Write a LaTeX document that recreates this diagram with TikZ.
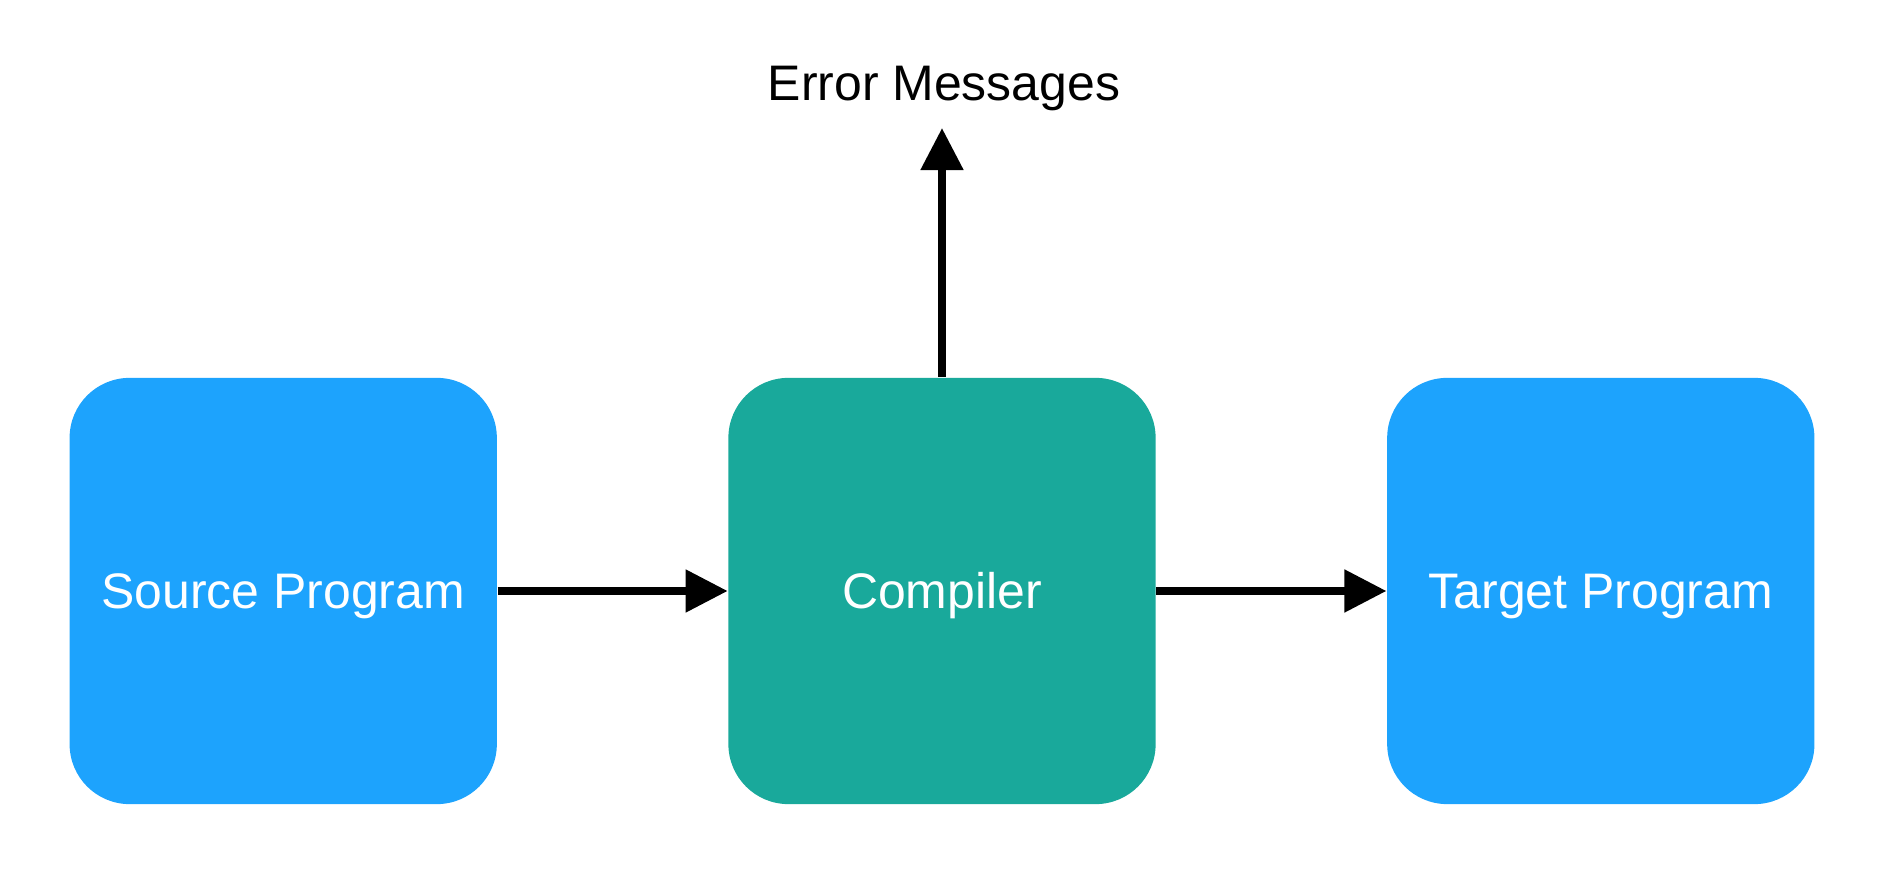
\documentclass[tikz,border=0pt]{standalone}
\usepackage{fontspec}
\setmainfont{Liberation Sans}
\usetikzlibrary{positioning,arrows.meta}
\definecolor{progblue}{RGB}{29,163,253}
\definecolor{compteal}{RGB}{25,169,155}
\tikzstyle{prog} = [rectangle, rounded corners=0.6cm, minimum width=4.27cm, minimum height=4.26cm, fill=progblue, text=white, inner sep=0pt, text height=0.44cm, text depth=0.1cm, font=\fontsize{14.2}{17}\selectfont]
\tikzstyle{comp} = [prog, fill=compteal]
\tikzstyle{flow} = [line width=0.08cm, -{Triangle[length=0.42cm,width=0.41cm]}]

\begin{document}
\begin{tikzpicture}[x=0.01cm,y=-0.01cm]
\useasboundingbox (0,0) rectangle (1880,892);
\node [comp] (c) at (942,591) {Compiler};
\node [prog, left=2.3cm of c] (s) {Source Program};
\node [prog, right=2.3cm of c] (t) {Target Program};
\node [anchor=base, inner sep=0pt, font=\fontsize{14.2}{17}\selectfont] (e) at (944,101) {Error Messages};
\coordinate (etip) at (942,128);
\draw [flow] (s) -- (c);
\draw [flow] (c) -- (t);
\draw [flow] (c.north) -- (etip);
\end{tikzpicture}
\end{document}
